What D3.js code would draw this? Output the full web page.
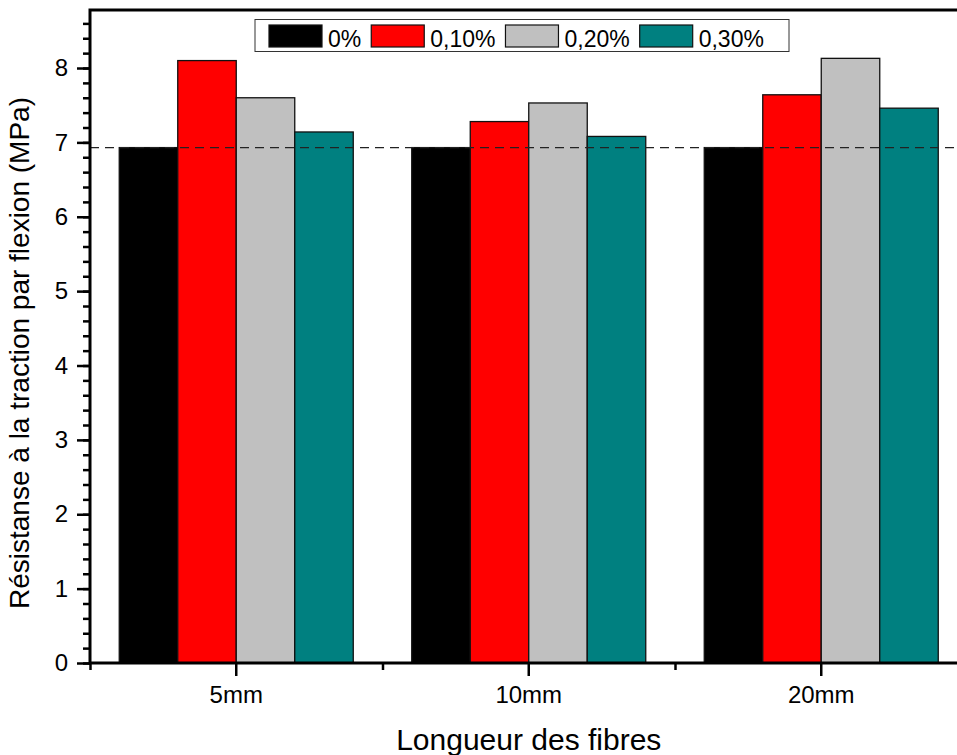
<!DOCTYPE html>
<html>
<head>
<meta charset="utf-8">
<script src="https://cdn.jsdelivr.net/npm/d3@7"></script>
<style>
  html, body { margin: 0; padding: 0; background: #fff; }
  svg { display: block; font-family: "Liberation Sans", Arial, sans-serif; }
</style>
</head>
<body>
<svg id="chart" width="957" height="755"></svg>
<script>
// Fibre lengths on the x axis
const categories = ["5mm", "10mm", "20mm"];
// Fibre contents (legend)
const seriesNames = ["0%", "0,10%", "0,20%", "0,30%"];
const seriesColors = ["#000000", "#ff0000", "#c0c0c0", "#008080"];
// Flexural tensile strength (MPa), one array per fibre content
const values0 = [6.93, 6.93, 6.93];
const values010 = [8.10, 7.28, 7.64];
const values020 = [7.60, 7.53, 8.13];
const values030 = [7.14, 7.08, 7.46];
// Reference level (plain mix) drawn as a dashed line
const referenceValue = 6.93;
// Y axis ticks
const yMajorTicks = [0, 1, 2, 3, 4, 5, 6, 7, 8];
const yMinorTicks = d3.range(0, 8.7, 0.2).map(v => +v.toFixed(1));

const series = [values0, values010, values020, values030];

const svg = d3.select("#chart");
const plotLeft = 90, plotRight = 967.5, plotTop = 10, plotBottom = 663;

const x = d3.scaleBand().domain(categories).range([plotLeft, plotRight])
  .paddingInner(0.2).paddingOuter(0.1);
const xSub = d3.scaleBand().domain(d3.range(seriesNames.length)).range([0, x.bandwidth()]);
const y = d3.scaleLinear().domain([0, 8.78]).range([plotBottom, plotTop]);

// Bars
const groups = svg.append("g").selectAll("g").data(categories).join("g")
  .attr("transform", d => `translate(${x(d)},0)`);
groups.selectAll("rect")
  .data((c, ci) => series.map((s, si) => ({ si, v: s[ci] })))
  .join("rect")
  .attr("x", d => xSub(d.si))
  .attr("y", d => y(d.v))
  .attr("width", xSub.bandwidth())
  .attr("height", d => y(0) - y(d.v))
  .attr("fill", d => seriesColors[d.si])
  .attr("stroke", "#111")
  .attr("stroke-width", 1.3);

// Dashed reference line
svg.append("line")
  .attr("x1", plotLeft).attr("x2", 957)
  .attr("y1", y(referenceValue)).attr("y2", y(referenceValue))
  .attr("stroke", "#222").attr("stroke-width", 1.4)
  .attr("stroke-dasharray", "9,6");

// Y axis: minor then major ticks
const yMinor = svg.append("g").attr("transform", `translate(${plotLeft},0)`)
  .call(d3.axisLeft(y).tickValues(yMinorTicks).tickSize(7).tickFormat(""));
const yMajor = svg.append("g").attr("transform", `translate(${plotLeft},0)`)
  .call(d3.axisLeft(y).tickValues(yMajorTicks).tickSize(13).tickPadding(9).tickFormat(d3.format("d")));

// X axis: minor ticks at band boundaries, major at category centres
const xLin = d3.scaleLinear().domain([0, 3]).range([plotLeft, plotRight]);
const xMinor = svg.append("g").attr("transform", `translate(0,${plotBottom})`)
  .call(d3.axisBottom(xLin).tickValues([0, 1, 2, 3]).tickSize(7).tickFormat(""));
const xMajor = svg.append("g").attr("transform", `translate(0,${plotBottom})`)
  .call(d3.axisBottom(x).tickSize(13).tickPadding(10));

[yMinor, yMajor, xMinor, xMajor].forEach(g => {
  g.select(".domain").remove();
  g.selectAll(".tick line").attr("stroke", "#000").attr("stroke-width", 2.5);
  g.selectAll(".tick text").attr("fill", "#000").style("font-size", "24px")
    .style("font-family", "'Liberation Sans', Arial, sans-serif");
});

// Frame: left axis, bottom axis and top border
svg.append("path")
  .attr("d", `M957,${plotTop}H${plotLeft}V${plotBottom}H957`)
  .attr("fill", "none").attr("stroke", "#000").attr("stroke-width", 3);

// Axis titles
svg.append("text")
  .attr("x", (plotLeft + plotRight) / 2).attr("y", 750)
  .attr("text-anchor", "middle").style("font-size", "30px")
  .text("Longueur des fibres");
svg.append("text")
  .attr("transform", `translate(29,353) rotate(-90)`)
  .attr("text-anchor", "middle").style("font-size", "28px")
  .text("Résistanse à la traction par flexion (MPa)");

// Legend
const legend = svg.append("g");
legend.append("rect")
  .attr("x", 255).attr("y", 19.5).attr("width", 534).attr("height", 32)
  .attr("fill", "#fff").attr("stroke", "#333").attr("stroke-width", 1);
let lx = 269;
seriesNames.forEach((name, i) => {
  legend.append("rect")
    .attr("x", lx).attr("y", 25).attr("width", 53).attr("height", 22)
    .attr("fill", seriesColors[i]).attr("stroke", "#111").attr("stroke-width", 1.2);
  const t = legend.append("text")
    .attr("x", lx + 59).attr("y", 46.5).style("font-size", "23px").text(name);
  lx += 59 + t.node().getComputedTextLength() + 10;
});
</script>
</body>
</html>
